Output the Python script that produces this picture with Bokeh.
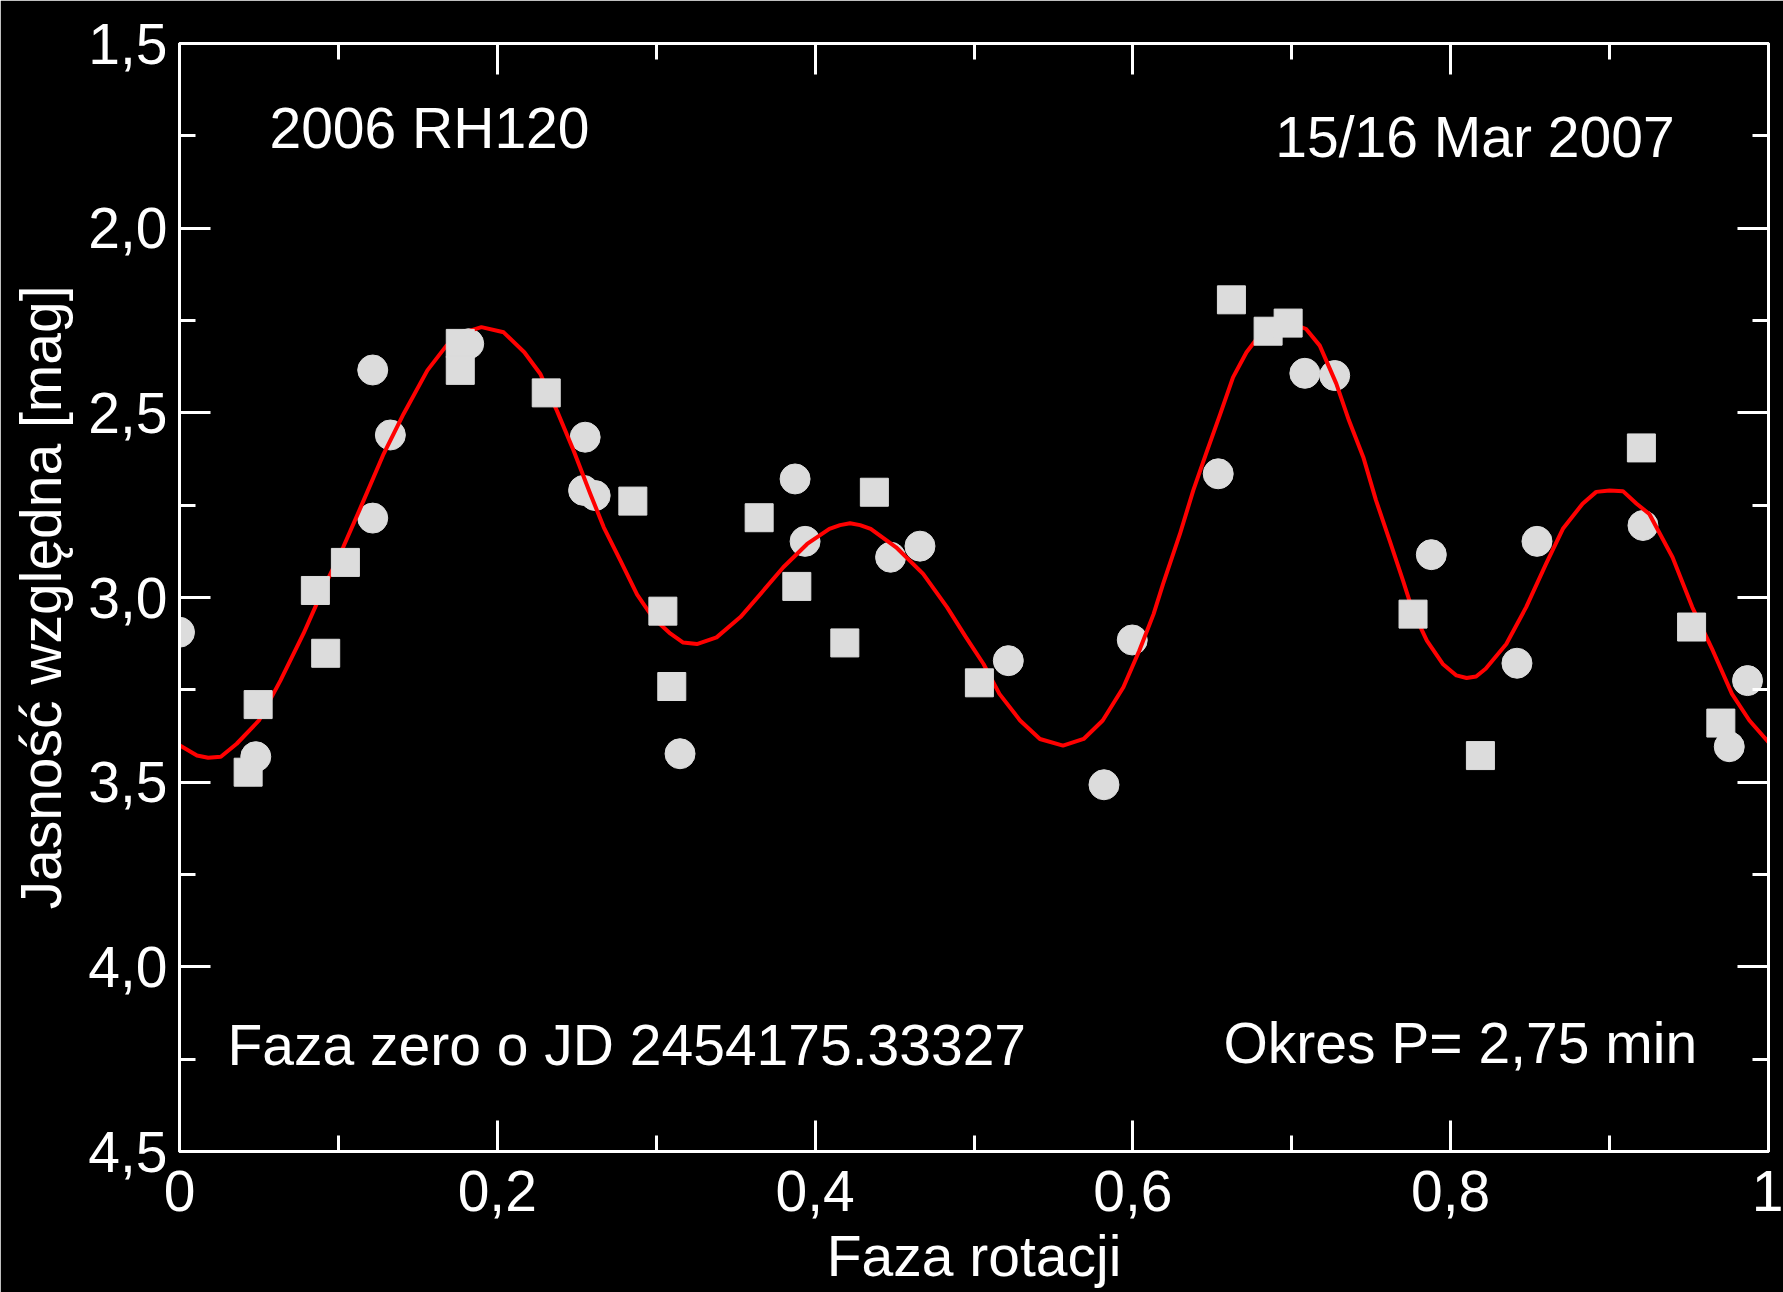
from bokeh.plotting import figure
from bokeh.models import (Range1d, LinearAxis, FixedTicker, Label, ColumnDataSource)
from bokeh.embed import file_html
from bokeh.resources import INLINE

# ---------------- data ----------------
circ_phase = [0.000, 0.048, 0.1216, 0.1327, 0.1216, 0.182, 0.2553, 0.2543, 0.2616, 0.315,
              0.3874, 0.3937, 0.4475, 0.466, 0.5216, 0.5818, 0.5996, 0.6537, 0.7082, 0.727,
              0.7878, 0.8417, 0.8543, 0.921, 0.9753, 0.9868]
circ_mag = [3.094, 3.431, 2.384, 2.560, 2.785, 2.313, 2.566, 2.710, 2.724, 3.423,
            2.679, 2.848, 2.891, 2.861, 3.171, 3.507, 3.115, 2.665, 2.393, 2.399,
            2.884, 3.178, 2.848, 2.805, 3.404, 3.225]

sq_phase = [0.0432, 0.0495, 0.0855, 0.092, 0.1044, 0.1767, 0.1767, 0.2308, 0.2853, 0.3042,
            0.3098, 0.3648, 0.3885, 0.4187, 0.4373, 0.5034, 0.662, 0.6851, 0.6977, 0.7763,
            0.8187, 0.920, 0.9516, 0.970]
sq_mag = [3.473, 3.290, 2.981, 3.151, 2.905, 2.312, 2.385, 2.446, 2.739, 3.037,
          3.241, 2.784, 2.970, 3.123, 2.715, 3.231, 2.194, 2.279, 2.257, 3.045,
          3.428, 2.595, 3.080, 3.340]

curve_phase = [0.000, 0.011, 0.018, 0.026, 0.036, 0.050, 0.0635, 0.078, 0.091, 0.103,
               0.114, 0.1285, 0.141, 0.156, 0.168, 0.179, 0.190, 0.204, 0.217, 0.227,
               0.2375, 0.248, 0.2585, 0.267, 0.2775, 0.288, 0.298, 0.309, 0.317, 0.3256,
               0.338, 0.353, 0.3675, 0.380, 0.395, 0.409, 0.4157, 0.422, 0.4283, 0.435,
               0.451, 0.468, 0.483, 0.495, 0.506, 0.516, 0.529, 0.5415, 0.556, 0.569,
               0.581, 0.594, 0.604, 0.613, 0.619, 0.6296, 0.638, 0.646, 0.655, 0.663,
               0.6715, 0.682, 0.6945, 0.709, 0.7176, 0.728, 0.736, 0.745, 0.753, 0.7616,
               0.770, 0.776, 0.785, 0.795, 0.8036, 0.810, 0.816, 0.822, 0.835, 0.8475,
               0.860, 0.8706, 0.883, 0.8916, 0.900, 0.9084, 0.917, 0.925, 0.9396, 0.952,
               0.965, 0.977, 0.988, 1.000]
curve_mag = [3.400, 3.428, 3.434, 3.431, 3.396, 3.333, 3.225, 3.098, 2.972, 2.864,
             2.756, 2.611, 2.503, 2.385, 2.318, 2.283, 2.268, 2.282, 2.336, 2.394,
             2.494, 2.602, 2.719, 2.810, 2.900, 2.992, 3.055, 3.098, 3.122, 3.126,
             3.108, 3.053, 2.981, 2.918, 2.855, 2.814, 2.804, 2.799, 2.804, 2.814,
             2.864, 2.936, 3.026, 3.108, 3.180, 3.261, 3.333, 3.383, 3.401, 3.383,
             3.333, 3.243, 3.144, 3.045, 2.963, 2.828, 2.710, 2.611, 2.503, 2.404,
             2.336, 2.277, 2.248, 2.273, 2.318, 2.421, 2.521, 2.620, 2.737, 2.846,
             2.954, 3.035, 3.117, 3.180, 3.211, 3.218, 3.214, 3.193, 3.126, 3.026,
             2.909, 2.814, 2.746, 2.714, 2.710, 2.712, 2.746, 2.774, 2.891, 3.026,
             3.144, 3.261, 3.333, 3.392]

x_ticks = [0.0, 0.2, 0.4, 0.6, 0.8, 1.0]
x_tick_labels = ["0", "0,2", "0,4", "0,6", "0,8", "1"]
x_minor = [0.1, 0.3, 0.5, 0.7, 0.9]
y_ticks = [1.5, 2.0, 2.5, 3.0, 3.5, 4.0, 4.5]
y_tick_labels = ["1,5", "2,0", "2,5", "3,0", "3,5", "4,0", "4,5"]
y_minor = [1.75, 2.25, 2.75, 3.25, 3.75, 4.25]

x_title = "Faza rotacji"
y_title = "Jasność względna [mag]"
name_text = "2006 RH120"
date_text = "15/16 Mar 2007"
zero_text = "Faza zero o JD 2454175.33327"
period_text = "Okres P= 2,75 min"

# ---------------- styling ----------------
FONT = "Liberation Sans"
FS = "57px"
WHITE = "white"
MARK = "#dcdcdc"

p = figure(width=1783, height=1292,
           x_range=Range1d(0, 1), y_range=Range1d(4.5, 1.5),
           output_backend="svg", toolbar_location=None,
           min_border_left=179, min_border_right=15,
           min_border_top=43, min_border_bottom=141,
           background_fill_color="black", border_fill_color="black",
           outline_line_color=WHITE, outline_line_width=3)
p.xgrid.visible = False
p.ygrid.visible = False

def style_axis(ax, show_labels, ticks, minor, overrides):
    ax.ticker = FixedTicker(ticks=ticks, minor_ticks=minor)
    ax.axis_line_color = WHITE
    ax.axis_line_width = 3
    ax.major_tick_line_color = WHITE
    ax.major_tick_line_width = 3
    ax.minor_tick_line_color = WHITE
    ax.minor_tick_line_width = 3
    ax.major_tick_in = 31
    ax.major_tick_out = 0
    ax.minor_tick_in = 16
    ax.minor_tick_out = 0
    if show_labels:
        ax.major_label_overrides = overrides
        ax.major_label_text_color = WHITE
        ax.major_label_text_font = FONT
        ax.major_label_text_font_size = FS
    else:
        ax.major_label_text_font_size = "0px"
        ax.major_label_text_color = None
        ax.major_label_standoff = 0

x_over = {v: s for v, s in zip(x_ticks, x_tick_labels)}
y_over = {v: s for v, s in zip(y_ticks, y_tick_labels)}

xb = p.xaxis[0]
style_axis(xb, True, x_ticks, x_minor, x_over)
xb.major_label_standoff = 19
xb.axis_label = x_title
xb.axis_label_text_font = FONT
xb.axis_label_text_font_size = FS
xb.axis_label_text_font_style = "normal"
xb.axis_label_text_color = WHITE
xb.axis_label_standoff = 10

yl = p.yaxis[0]
style_axis(yl, True, y_ticks, y_minor, y_over)
yl.major_label_standoff = 12
yl.axis_label = y_title
yl.axis_label_text_font = FONT
yl.axis_label_text_font_size = FS
yl.axis_label_text_font_style = "normal"
yl.axis_label_text_color = WHITE
yl.axis_label_standoff = 12

xt = LinearAxis()
style_axis(xt, False, x_ticks, x_minor, None)
p.add_layout(xt, "above")
yr = LinearAxis()
style_axis(yr, False, y_ticks, y_minor, None)
p.add_layout(yr, "right")

# ---------------- marks ----------------
src_c = ColumnDataSource(dict(x=circ_phase, y=circ_mag))
src_s = ColumnDataSource(dict(x=sq_phase, y=sq_mag))
src_l = ColumnDataSource(dict(x=curve_phase, y=curve_mag))

p.scatter("x", "y", source=src_c, marker="circle", size=30,
          fill_color=MARK, line_color=MARK, line_width=1)
p.line("x", "y", source=src_l, line_color="#ff0000", line_width=4,
       line_join="round")
p.scatter("x", "y", source=src_s, marker="square", size=28,
          fill_color=MARK, line_color=MARK, line_width=1)

# ---------------- texts ----------------
def add_text(txt, x, y, align="left"):
    p.add_layout(Label(x=x, y=y, text=txt, text_font=FONT, text_font_size=FS,
                       text_color=WHITE, text_align=align,
                       text_baseline="alphabetic"))

add_text(name_text, 0.0566, 1.728)
add_text(date_text, 0.9409, 1.752, "right")
add_text(zero_text, 0.0302, 4.211)
add_text(period_text, 0.657, 4.206)

open("out.html", "w").write(file_html(p, INLINE))
